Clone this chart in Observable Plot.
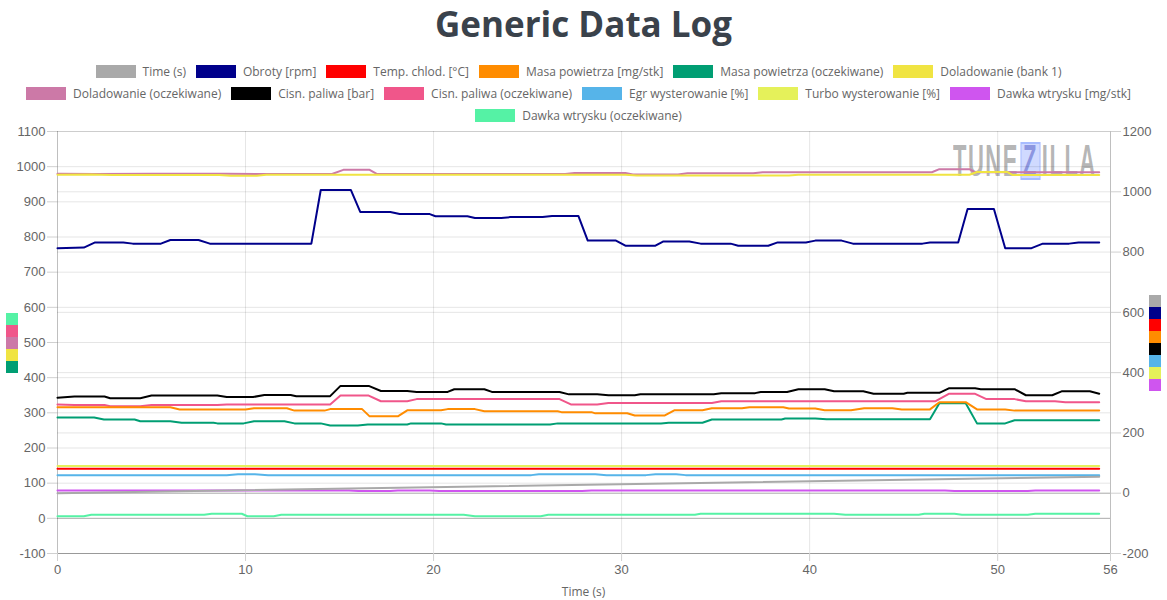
<!DOCTYPE html>
<html>
<head>
<meta charset="utf-8">
<script src="https://cdn.jsdelivr.net/npm/d3@7"></script>
<script src="https://cdn.jsdelivr.net/npm/@observablehq/plot@0.6"></script>
<style>
  html, body { margin: 0; padding: 0; background: #fff; }
  #wrap { position: relative; width: 1167px; height: 600px; overflow: hidden; font-family: "Open Sans", sans-serif; }
  #title { position: absolute; top: 0; left: 0; width: 1167px; text-align: center; font-weight: 700; font-size: 35px; line-height: 48px; color: #3a424b; }
  #legend { position: absolute; top: 60px; left: -5px; width: 1167px; }
  .lrow { display: flex; justify-content: center; align-items: center; height: 22px; }
  .item { display: flex; align-items: center; margin: 0 5px; font-size: 12px; color: #666; white-space: nowrap; }
  .sw { width: 40px; height: 13px; margin-right: 7px; }
  #chart { position: absolute; top: 125px; left: 0; }
  #wm { position: absolute; left: 953px; top: 139px; font-family: "Liberation Sans", sans-serif; font-weight: 700; font-size: 44px; line-height: 44px; color: rgba(150,150,150,0.7); letter-spacing: 3px; white-space: nowrap; transform-origin: 0 0; transform: scaleX(0.5); }
  #wm .z { display: inline-block; background: rgba(120,150,255,0.35); color: rgba(110,120,210,0.7); border: 2px solid rgba(120,150,255,0.45); padding: 0 3px; line-height: 34px; margin: 0 3px; }
  #xlabel { position: absolute; top: 583px; left: 57px; width: 1053px; text-align: center; font-size: 12px; line-height: 18px; color: #666; }
  .keys { position: absolute; width: 12px; }
  .keys div { width: 12px; height: 12px; }
</style>
</head>
<body>
<div id="wrap">
  <div id="title">Generic Data Log</div>
  <div id="legend"></div>
  <div id="wm">TUNE<span class="z">Z</span>ILLA</div>
  <div id="chart"></div>
  <div id="xlabel">Time (s)</div>
  <div id="leftKeys" class="keys" style="left:6px; top:313px;"></div>
  <div id="rightKeys" class="keys" style="left:1149px; top:295px;"></div>
</div>
<script>
// ---- Series meta ----
const seriesNames = ["Time (s)", "Obroty [rpm]", "Temp. chlod. [°C]", "Masa powietrza [mg/stk]", "Masa powietrza (oczekiwane)", "Doladowanie (bank 1)", "Doladowanie (oczekiwane)", "Cisn. paliwa [bar]", "Cisn. paliwa (oczekiwane)", "Egr wysterowanie [%]", "Turbo wysterowanie [%]", "Dawka wtrysku [mg/stk]", "Dawka wtrysku (oczekiwane)"];
const seriesColors = ["#a9a9a9", "#00008b", "#ff0000", "#ff8c00", "#009e73", "#f0e442", "#cc79a7", "#000000", "#f0568a", "#56b4e9", "#e5f15a", "#cf55ef", "#55f2a5"];
const seriesAxis = ["right", "right", "right", "right", "left", "left", "left", "right", "left", "right", "right", "right", "left"];
const legendRows = [[0, 1, 2, 3, 4, 5], [6, 7, 8, 9, 10, 11], [12]];

// ---- Axis ticks ----
const xTicks = [0, 10, 20, 30, 40, 50, 56];
const leftTicks = [-100, 0, 100, 200, 300, 400, 500, 600, 700, 800, 900, 1000, 1100];
const rightTicks = [-200, 0, 200, 400, 600, 800, 1000, 1200];

// ---- Data: [time s, value] ----
const timeS = [[0, 0], [55.4, 55]];
const obroty = [[0, 813], [1.4, 815], [2.0, 832], [3.5, 832], [4.0, 828], [5.5, 828], [6.0, 840], [7.5, 840], [8.1, 828], [13.5, 828], [14.0, 1006], [15.6, 1006], [16.1, 933], [17.7, 933], [18.2, 926], [19.8, 926], [20.1, 919], [21.8, 919], [22.2, 913], [23.6, 913], [24.1, 916], [25.8, 916], [26.3, 920], [27.7, 920], [28.2, 838], [29.7, 838], [30.2, 821], [31.8, 821], [32.2, 835], [33.6, 835], [34.2, 828], [35.8, 828], [36.2, 821], [37.8, 821], [38.3, 832], [39.8, 832], [40.3, 838], [41.7, 838], [42.3, 828], [46.0, 828], [46.4, 832], [47.9, 832], [48.4, 943], [49.8, 943], [50.4, 813], [51.8, 813], [52.4, 828], [53.8, 828], [54.3, 832], [55.4, 832]];
const tempChlod = [[0, 81], [55.4, 81]];
const masaPow = [[0, 285], [6.0, 285], [6.5, 278], [10.0, 278], [10.45, 282], [12.2, 282], [12.6, 274], [14.2, 274], [14.5, 279], [16.2, 279], [16.6, 255], [18.1, 255], [18.6, 275], [20.4, 275], [20.75, 279], [22.2, 279], [22.7, 272], [26.6, 272], [26.8, 269], [28.4, 269], [28.6, 265], [30.3, 265], [30.7, 258], [32.3, 258], [32.8, 275], [34.3, 275], [34.8, 282], [36.4, 282], [36.8, 285], [38.6, 285], [38.9, 281], [40.3, 281], [40.8, 275], [42.2, 275], [42.9, 282], [44.4, 282], [44.9, 278], [46.4, 278], [46.9, 302], [48.3, 302], [48.9, 278], [50.4, 278], [50.9, 274], [55.4, 274]];
const masaPowOcz = [[0, 287], [1.95, 287], [2.47, 281], [4.1, 281], [4.4, 276], [6.0, 276], [6.6, 272], [8.3, 272], [8.5, 270], [9.9, 270], [10.45, 276], [12.07, 276], [12.6, 270], [14.0, 270], [14.5, 264], [15.97, 264], [16.5, 267], [18.6, 267], [18.8, 270], [20.4, 270], [20.66, 267], [26.2, 267], [26.6, 270], [32.1, 270], [32.5, 272], [34.3, 272], [34.8, 281], [38.5, 281], [38.7, 284], [40.3, 284], [40.9, 282], [46.4, 282], [46.9, 327], [48.3, 327], [48.9, 270], [50.4, 270], [50.9, 279], [55.4, 279]];
const dolad = [[0, 977], [1.8, 978], [2.9, 976], [8.6, 976], [9.2, 974], [10.6, 974], [11.1, 977], [30.2, 977], [30.8, 975], [38.9, 975], [39.4, 977], [48.5, 977], [48.9, 985], [50.5, 985], [50.8, 976], [55.4, 976]];
const doladOcz = [[0, 980], [2.0, 979], [5.0, 980], [9.0, 980], [10.8, 979], [14.6, 979], [15.2, 991], [16.6, 991], [17.0, 979], [27.0, 979], [27.5, 982], [30.2, 982], [30.6, 978], [33.0, 978], [33.5, 981], [37.0, 981], [37.5, 984], [46.5, 984], [46.9, 993], [48.5, 993], [48.8, 984], [55.4, 984]];
const cisn = [[0, 317], [0.9, 321], [2.5, 321], [2.8, 315], [4.4, 315], [5.0, 324], [8.5, 324], [9.0, 319], [10.4, 319], [11.0, 326], [12.4, 326], [12.7, 322], [14.5, 322], [15.05, 356], [16.55, 356], [17.2, 339], [18.6, 339], [19.1, 336], [20.75, 336], [21.1, 345], [22.7, 345], [23.1, 336], [26.7, 336], [27.2, 328], [28.7, 328], [29.3, 325], [30.7, 325], [31.0, 328], [34.9, 328], [35.3, 332], [37.1, 332], [37.4, 336], [38.8, 336], [39.4, 345], [40.8, 345], [41.3, 338], [42.85, 338], [43.4, 330], [45.0, 330], [45.2, 333], [46.9, 333], [47.4, 348], [48.8, 348], [49.1, 345], [50.9, 345], [51.5, 325], [52.9, 325], [53.4, 338], [54.9, 338], [55.4, 330]];
const cisnOcz = [[0, 324], [0.9, 322], [2.5, 322], [2.8, 319], [4.4, 319], [5.0, 322], [8.5, 322], [9.0, 324], [14.5, 324], [15.05, 349], [16.55, 349], [17.2, 333], [18.6, 333], [19.1, 339], [26.7, 339], [27.3, 324], [28.7, 324], [29.3, 328], [34.8, 328], [35.3, 333], [46.7, 333], [47.4, 354], [48.8, 354], [49.4, 339], [50.9, 339], [51.5, 333], [53.05, 333], [53.6, 330], [55.4, 330]];
const egr = [[0, 60], [9.0, 60], [9.6, 63], [10.5, 63], [11.2, 60], [25.2, 60], [25.6, 63], [28.6, 63], [29.2, 60], [31.3, 60], [31.8, 63], [32.9, 63], [33.4, 60], [55.4, 60]];
const turbo = [[0, 90], [55.4, 90]];
const dawka = [[0, 9], [15.5, 9], [16.0, 7], [17.7, 7], [18.1, 9], [19.8, 9], [20.3, 7], [27.9, 7], [28.4, 9], [47.2, 9], [47.7, 7], [51.6, 7], [52.0, 9], [55.4, 9]];
const dawkaOcz = [[0, 6], [1.4, 6], [1.8, 10], [7.8, 10], [8.2, 13], [9.8, 13], [10.1, 6], [11.5, 6], [11.9, 10], [21.6, 10], [22.2, 6], [25.7, 6], [26.1, 10], [33.9, 10], [34.2, 13], [41.3, 13], [41.9, 10], [45.8, 10], [46.1, 13], [47.7, 13], [48.1, 10], [51.6, 10], [52.0, 13], [55.4, 13]];

const seriesData = [timeS, obroty, tempChlod, masaPow, masaPowOcz, dolad, doladOcz, cisn, cisnOcz, egr, turbo, dawka, dawkaOcz];

// ---- Dual axis mapping (right values drawn on the left scale) ----
const L0 = leftTicks[0], L1 = leftTicks[leftTicks.length - 1];
const R0 = rightTicks[0], R1 = rightTicks[rightTicks.length - 1];
const toLeft = v => L0 + (v - R0) * (L1 - L0) / (R1 - R0);
const fromLeft = y => R0 + (y - L0) * (R1 - R0) / (L1 - L0);

// ---- Legend ----
const legend = document.getElementById("legend");
for (const row of legendRows) {
  const r = document.createElement("div");
  r.className = "lrow";
  for (const i of row) {
    const it = document.createElement("div");
    it.className = "item";
    const sw = document.createElement("div");
    sw.className = "sw";
    sw.style.background = seriesColors[i];
    it.appendChild(sw);
    it.appendChild(document.createTextNode(seriesNames[i]));
    r.appendChild(it);
  }
  legend.appendChild(r);
}
// side axis keys
const leftIdx = seriesNames.map((d, i) => i).filter(i => seriesAxis[i] === "left").reverse();
const rightIdx = seriesNames.map((d, i) => i).filter(i => seriesAxis[i] === "right");
for (const [id, idx] of [["leftKeys", leftIdx], ["rightKeys", rightIdx]]) {
  const el = document.getElementById(id);
  for (const i of idx) {
    const d = document.createElement("div");
    d.style.background = seriesColors[i];
    el.appendChild(d);
  }
}

// ---- Marks ----
const gridColor = "#000";
const marks = [
  Plot.gridY({ticks: leftTicks, stroke: gridColor, strokeOpacity: 0.1}),
  Plot.gridY({ticks: rightTicks.map(toLeft), stroke: gridColor, strokeOpacity: 0.1}),
  Plot.gridX({ticks: xTicks.slice(1, -1), stroke: gridColor, strokeOpacity: 0.1}),
  Plot.ruleY([0, toLeft(0), L0], {stroke: gridColor, strokeOpacity: 0.25}),
  Plot.ruleX([xTicks[0], xTicks[xTicks.length - 1]], {stroke: gridColor, strokeOpacity: 0.25}),
  Plot.axisY({anchor: "left", ticks: leftTicks, tickFormat: d => String(d), tickSize: 10, tickPadding: 2, label: null, stroke: "#d0d0d0", fill: "#666", fontSize: 13}),
  Plot.axisY({anchor: "right", ticks: rightTicks.map(toLeft), tickFormat: d => String(Math.round(fromLeft(d))), tickSize: 10, tickPadding: 2, label: null, stroke: "#d0d0d0", fill: "#666", fontSize: 13}),
  Plot.axisX({ticks: xTicks, tickFormat: d => String(d), tickSize: 8, tickPadding: 3, stroke: "#d0d0d0", fill: "#666", fontSize: 13, label: null})
];
for (let i = seriesNames.length - 1; i >= 0; i--) {
  const conv = seriesAxis[i] === "right" ? toLeft : (v => v);
  const rows = seriesData[i].map(([t, v]) => ({t, y: conv(v)}));
  marks.push(Plot.line(rows, {x: "t", y: "y", stroke: seriesColors[i], strokeWidth: 2, curve: "linear"}));
}

const chart = Plot.plot({
  width: 1167,
  height: 475,
  marginLeft: 57,
  marginRight: 57,
  marginTop: 6,
  marginBottom: 47,
  x: {domain: [xTicks[0], xTicks[xTicks.length - 1]]},
  y: {domain: [L0, L1]},
  style: {fontFamily: "'Liberation Sans', Arial, sans-serif", fontSize: "13px", background: "transparent", overflow: "visible"},
  marks
});
document.getElementById("chart").appendChild(chart);
</script>
</body>
</html>
